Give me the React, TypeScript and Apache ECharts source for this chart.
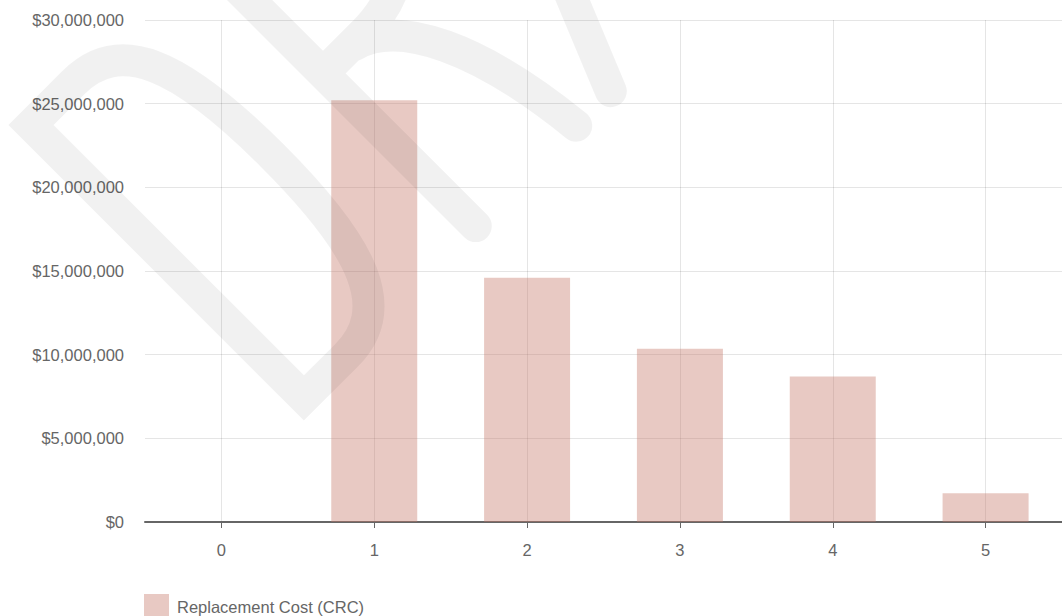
import React, { useEffect, useRef } from "react";
import * as echarts from "echarts";

// ---- data ----
const categories: string[] = ["0", "1", "2", "3", "4", "5"];
const replacementCost: number[] = [0, 25200000, 14600000, 10350000, 8700000, 1720000];
const seriesName = "Replacement Cost (CRC)";
const yTicks = { min: 0, max: 30000000, interval: 5000000 };
const watermarkWord = "DRAFT";

// ---- watermark geometry (decoration, text frame rotated 45deg) ----
const WM_ORIGIN = [31, 125];
const C45 = Math.SQRT1_2;
function T(u: number, v: number): string {
  const x = WM_ORIGIN[0] + u * C45 + v * C45;
  const y = WM_ORIGIN[1] - u * C45 + v * C45;
  return x.toFixed(1) + " " + y.toFixed(1);
}
function buildWatermark(): string {
  const H = 386;
  const parts: string[] = [];
  // D
  parts.push(
    "M " + T(60, 0) + " L " + T(0, 0) + " L " + T(0, H) + " L " + T(60, H) +
      " C " + T(125, H) + " " + T(149, 325) + " " + T(149, 193) +
      " C " + T(149, 60) + " " + T(125, 0) + " " + T(60, 0) + " Z"
  );
  // R
  parts.push(
    "M " + T(243, H) + " L " + T(243, 0) + " L " + T(300, 0) +
      " C " + T(365, 0) + " " + T(392, 35) + " " + T(392, 85) +
      " C " + T(392, 135) + " " + T(365, 170) + " " + T(300, 170) + " L " + T(243, 170)
  );
  parts.push("M " + T(285, 172) + " C " + T(335, 185) + " " + T(372, 262) + " " + T(385, H));
  // A
  parts.push("M " + T(434, H) + " L " + T(592, 0) + " L " + T(750, H));
  parts.push("M " + T(479, 275) + " L " + T(705, 275));
  return parts.join(" ");
}

export default function App() {
  const ref = useRef<HTMLDivElement>(null);

  useEffect(() => {
    if (!ref.current) return;
    echarts.graphic.registerShape("draftmark", echarts.graphic.extendPath(buildWatermark(), {}) as any);
    const chart = echarts.init(ref.current, null, { renderer: "svg" });
    const font = "'Liberation Sans', Arial, sans-serif";
    chart.setOption({
      animation: false,
      backgroundColor: "#ffffff",
      textStyle: { fontFamily: font },
      grid: { left: 145, right: -6, top: 20, bottom: 94, containLabel: false },
      legend: {
        data: [seriesName],
        left: 144,
        top: 594,
        padding: 0,
        itemWidth: 25,
        itemHeight: 25,
        icon: "rect",
        selectedMode: false,
        textStyle: { fontSize: 16.5, color: "#666", fontFamily: font, padding: [0, 0, 0, 3] },
      },
      xAxis: {
        type: "category",
        data: categories,
        boundaryGap: true,
        axisLine: { show: true, lineStyle: { color: "#666", width: 2 } },
        axisTick: { show: true, alignWithLabel: true, length: 6, lineStyle: { color: "#666", width: 1 } },
        axisLabel: { color: "#666", fontSize: 16.5, margin: 19, fontFamily: font },
        splitLine: { show: true, alignWithLabel: true, interval: 0, lineStyle: { color: "rgba(0,0,0,0.1)", width: 1 } },
      } as any,
      yAxis: {
        type: "value",
        min: yTicks.min,
        max: yTicks.max,
        interval: yTicks.interval,
        axisLine: { show: false },
        axisTick: { show: false },
        axisLabel: {
          color: "#666",
          fontSize: 16.5,
          margin: 21,
          fontFamily: font,
          formatter: (v: number) => "$" + v.toLocaleString("en-US"),
        },
        splitLine: { show: true, lineStyle: { color: "rgba(0,0,0,0.1)", width: 1 } },
      },
      series: [
        {
          name: seriesName,
          type: "bar",
          data: replacementCost,
          barWidth: 86,
          itemStyle: { color: "rgba(197,120,105,0.4)" },
          emphasis: { disabled: true },
        },
      ],
      graphic: [
        {
          type: "draftmark",
          name: watermarkWord,
          silent: true,
          z: 100,
          style: {
            fill: "none",
            stroke: "rgba(0,0,0,0.055)",
            lineWidth: 32,
            lineCap: "round",
            lineJoin: "miter",
          },
        },
      ],
    });
    return () => chart.dispose();
  }, []);

  return (
    <div
      ref={ref}
      style={{ position: "fixed", left: 0, top: 0, width: 1062, height: 616, background: "#fff" }}
    />
  );
}
